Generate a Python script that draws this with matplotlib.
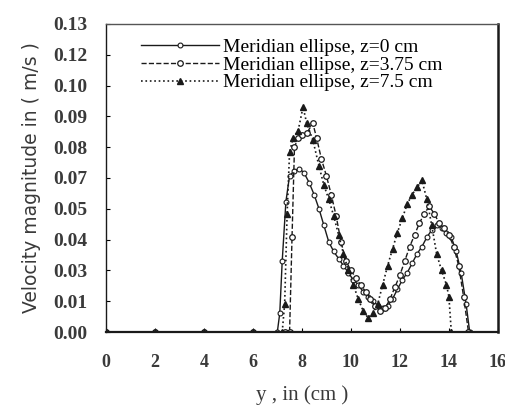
import numpy as np
import matplotlib
matplotlib.use("Agg")
import matplotlib.pyplot as plt

# --- data ---
x_z0 = [0, 2, 4, 6, 7.0, 7.1, 7.2, 7.35, 7.5, 7.7, 7.9, 8.1, 8.3, 8.5, 8.7, 8.9,
        9.1, 9.3, 9.5, 9.7, 9.9, 10.1, 10.3, 10.5, 10.7, 10.9, 11.1, 11.3, 11.5,
        11.7, 11.9, 12.1, 12.3, 12.5, 12.7, 12.9, 13.1, 13.3, 13.5, 13.7, 13.9,
        14.1, 14.3, 14.5, 14.7, 14.85]
v_z0 = [0, 0, 0, 0, 0, 0.008, 0.030, 0.055, 0.066, 0.068, 0.069, 0.067, 0.063,
        0.058, 0.052, 0.045, 0.038, 0.034, 0.031, 0.028, 0.025, 0.022, 0.020,
        0.017, 0.015, 0.013, 0.011, 0.010, 0.011, 0.014, 0.018, 0.022, 0.025,
        0.029, 0.033, 0.036, 0.040, 0.043, 0.045, 0.044, 0.042, 0.040, 0.034,
        0.025, 0.012, 0.0]

x_z375 = [0, 2, 4, 6, 7.3, 7.5, 7.6, 7.7, 7.85, 8.0, 8.2, 8.45, 8.6, 8.8, 9.0,
          9.2, 9.4, 9.6, 9.8, 10.0, 10.2, 10.4, 10.6, 10.8, 11.0, 11.2, 11.4,
          11.6, 11.8, 12.0, 12.2, 12.4, 12.6, 12.8, 13.0, 13.2, 13.4, 13.6, 13.8,
          14.0, 14.2, 14.4, 14.6, 14.8]
v_z375 = [0, 0, 0, 0, 0, 0.0, 0.040, 0.078, 0.082, 0.083, 0.084, 0.088, 0.082,
          0.073, 0.066, 0.058, 0.049, 0.038, 0.030, 0.026, 0.023, 0.020, 0.017,
          0.014, 0.011, 0.009, 0.010, 0.014, 0.019, 0.024, 0.030, 0.036, 0.041,
          0.046, 0.050, 0.053, 0.050, 0.046, 0.044, 0.041, 0.036, 0.028, 0.015, 0.0]

x_z75 = [0, 2, 4, 6, 7.2, 7.3, 7.4, 7.5, 7.65, 7.85, 8.05, 8.2, 8.45, 8.7, 8.9,
         9.1, 9.3, 9.5, 9.7, 9.9, 10.1, 10.3, 10.5, 10.7, 10.9, 11.1, 11.3, 11.5,
         11.7, 11.9, 12.1, 12.3, 12.5, 12.7, 12.9, 13.1, 13.3, 13.5, 13.7, 13.9,
         14.0, 14.1]
v_z75 = [0, 0, 0, 0, 0, 0.012, 0.050, 0.076, 0.082, 0.085, 0.095, 0.088, 0.081,
         0.070, 0.062, 0.056, 0.049, 0.041, 0.033, 0.026, 0.020, 0.014, 0.009,
         0.006, 0.008, 0.012, 0.020, 0.028, 0.035, 0.042, 0.048, 0.054, 0.058,
         0.061, 0.064, 0.056, 0.045, 0.033, 0.026, 0.020, 0.015, 0.0]

labels = ["Meridian ellipse, z=0 cm",
          "Meridian ellipse, z=3.75 cm",
          "Meridian ellipse, z=7.5 cm"]

y_ticks = [0.0, 0.013, 0.026, 0.039, 0.052, 0.065, 0.078, 0.091, 0.104, 0.117, 0.13]
y_ticklabels = ["0.00", "0.01", "0.03", "0.04", "0.05", "0.07", "0.08", "0.09",
                "0.10", "0.12", "0.13"]
x_ticks = [0, 2, 4, 6, 8, 10, 12, 14, 16]

serif = ["Liberation Serif", "DejaVu Serif"]
ink = "#1a1a1a"
grey = "#3a3a3a"

fig = plt.figure(figsize=(5.06, 4.12), dpi=100)
ax = fig.add_axes([0.209, 0.194, 0.775, 0.748])

ax.plot(x_z0, v_z0, "-", color=ink, lw=1.0, marker="o", ms=3.5,
        mfc="white", mec=ink, mew=0.8, label=labels[0])
ax.plot(x_z375, v_z375, "--", color=ink, lw=1.0, marker="o", ms=4,
        mfc="white", mec=ink, mew=0.9, label=labels[1])
ax.plot(x_z75, v_z75, ":", color=ink, lw=1.2, marker="^", ms=4,
        mfc=ink, mec=ink, label=labels[2])

ax.set_xlim(0, 16)
ax.set_ylim(0, 0.13)
ax.set_xticks(x_ticks)
ax.set_xticklabels([str(t) for t in x_ticks], family=serif, fontsize=13,
                   fontweight="bold", color=grey)
ax.set_yticks(y_ticks)
ax.set_yticklabels(y_ticklabels, family=serif, fontsize=14,
                   fontweight="bold", color=grey)
ax.tick_params(axis="both", direction="in", length=3, width=0.8)
ax.tick_params(axis="y", pad=13)
ax.tick_params(axis="x", pad=16)

for s in ax.spines.values():
    s.set_color(ink)
    s.set_linewidth(1.0)
ax.spines["right"].set_linewidth(1.8)
ax.spines["bottom"].set_linewidth(1.6)
ax.spines["top"].set_color("#555555")

ax.set_xlabel("y , in (cm )", family=serif, fontsize=15, color=grey,
              labelpad=10)
ax.set_ylabel("Velocity magnitude in ( m/s )", fontsize=13.5, color=grey,
              labelpad=9)

leg = ax.legend(loc="upper left", bbox_to_anchor=(0.06, 0.99), frameon=False,
                prop={"family": serif, "size": 14}, handlelength=4.0,
                handletextpad=0.2, labelspacing=0.0, borderaxespad=0.2)

fig.savefig("out.png", dpi=100, facecolor="white")
